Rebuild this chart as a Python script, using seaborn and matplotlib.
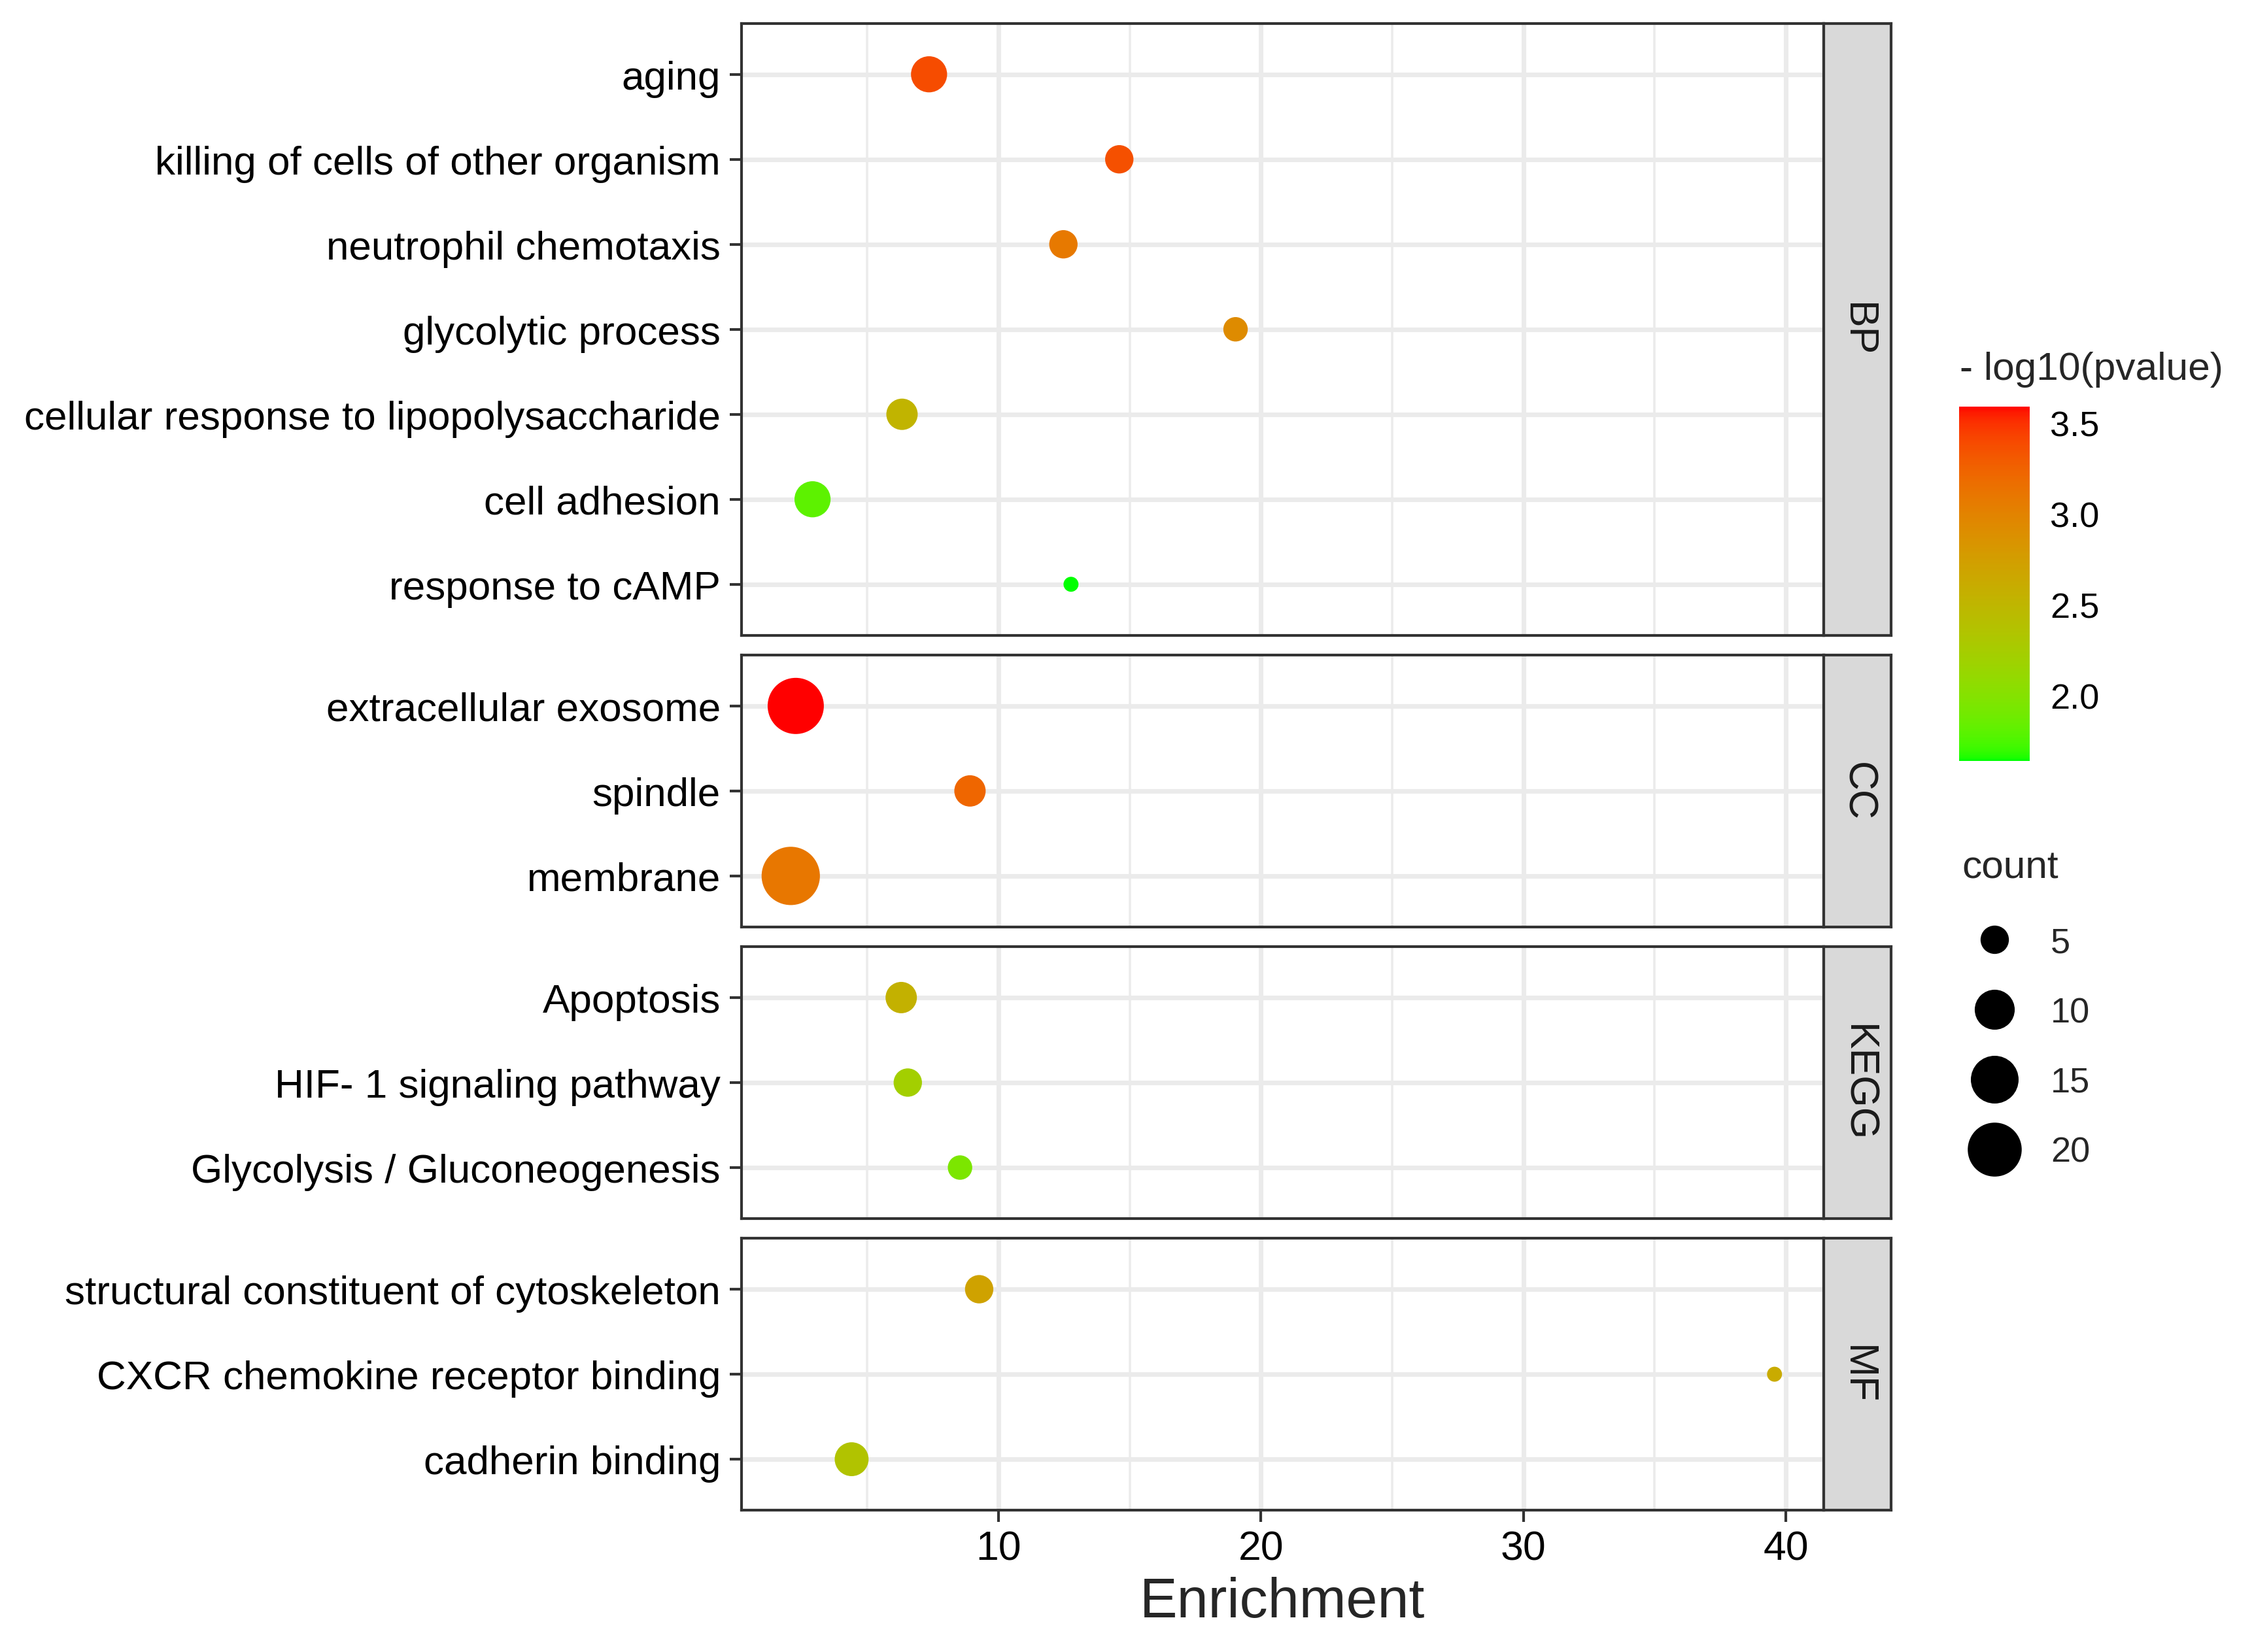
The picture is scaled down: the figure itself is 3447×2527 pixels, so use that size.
import numpy as np
import pandas as pd
import matplotlib
matplotlib.use("Agg")
import matplotlib.pyplot as plt
import seaborn as sns
from matplotlib.colors import ListedColormap, Normalize
from matplotlib.cm import ScalarMappable
from matplotlib.lines import Line2D
from matplotlib.ticker import MultipleLocator

# data
terms = [
    "aging", "killing of cells of other organism", "neutrophil chemotaxis",
    "glycolytic process", "cellular response to lipopolysaccharide",
    "cell adhesion", "response to cAMP",
    "extracellular exosome", "spindle", "membrane",
    "Apoptosis", "HIF- 1 signaling pathway", "Glycolysis / Gluconeogenesis",
    "structural constituent of cytoskeleton", "CXCR chemokine receptor binding",
    "cadherin binding",
]
category = ["BP"] * 7 + ["CC"] * 3 + ["KEGG"] * 3 + ["MF"] * 3
enrichment = [7.35, 14.6, 12.47, 19.03, 6.32, 2.91, 12.76,
              2.27, 8.91, 2.08,
              6.29, 6.54, 8.53,
              9.26, 39.57, 4.4]
neg_log_p = [3.38, 3.36, 3.08, 2.92, 2.52, 1.80, 1.64,
             3.59, 3.22, 3.10,
             2.55, 2.22, 1.95,
             2.70, 2.62, 2.35]
counts = [8, 5, 5, 4, 6, 8, 3,
          22, 6, 24,
          6, 5, 4,
          5, 3, 7]
groups = ["BP", "CC", "KEGG", "MF"]
size_breaks = [5, 10, 15, 20]
cbar_ticks = [2.0, 2.5, 3.0, 3.5]

df = pd.DataFrame({"term": terms, "category": category, "enrichment": enrichment,
                   "neg_log_p": neg_log_p, "count": counts})


# green -> red gradient interpolated in Lab space (like ggplot)
def srgb_to_lab(rgb):
    rgb = np.asarray(rgb, float)
    lin = np.where(rgb <= 0.04045, rgb / 12.92, ((rgb + 0.055) / 1.055) ** 2.4)
    m = np.array([[0.4124, 0.3576, 0.1805], [0.2126, 0.7152, 0.0722], [0.0193, 0.1192, 0.9505]])
    xyz = m @ lin / np.array([0.95047, 1.0, 1.08883])
    f = np.where(xyz > 0.008856, np.cbrt(xyz), 7.787 * xyz + 16 / 116)
    return np.array([116 * f[1] - 16, 500 * (f[0] - f[1]), 200 * (f[1] - f[2])])


def lab_to_srgb(lab):
    L, a, b = lab
    fy = (L + 16) / 116
    fx = fy + a / 500
    fz = fy - b / 200
    f = np.array([fx, fy, fz])
    xyz = np.where(f ** 3 > 0.008856, f ** 3, (f - 16 / 116) / 7.787) * np.array([0.95047, 1.0, 1.08883])
    minv = np.array([[3.2406, -1.5372, -0.4986], [-0.9689, 1.8758, 0.0415], [0.0557, -0.2040, 1.0570]])
    lin = np.clip(minv @ xyz, 0, 1)
    rgb = np.where(lin <= 0.0031308, 12.92 * lin, 1.055 * lin ** (1 / 2.4) - 0.055)
    return np.clip(rgb, 0, 1)


lab_lo = srgb_to_lab([0, 1, 0])
lab_hi = srgb_to_lab([1, 0, 0])
cmap = ListedColormap([lab_to_srgb(lab_lo + t * (lab_hi - lab_lo)) for t in np.linspace(0, 1, 256)])
norm = Normalize(df["neg_log_p"].min(), df["neg_log_p"].max())

# point sizes like ggplot's area scale
cmin, cmax = df["count"].min(), df["count"].max()


def diam(c):
    return 5.5 + 15.9 * np.sqrt((c - cmin) / (cmax - cmin))


size_map = {c: diam(c) ** 2 for c in sorted(set(counts) | set(size_breaks))}

sns.set_style("white")
plt.rcParams["font.family"] = ["Liberation Sans", "DejaVu Sans"]

fig = plt.figure(figsize=(3447 / 300, 2528 / 300), dpi=300)

left, right = 0.329, 0.8091
strip_w = 0.0299
top, bottom = 0.9855, 0.0858
gap = 0.0119
# discrete axis: (n - 1) steps plus 0.6 padding on each side
units = [df[df.category == g].shape[0] + 0.2 for g in groups]
unit_h = (top - bottom - gap * (len(groups) - 1)) / sum(units)

span = max(enrichment) - min(enrichment)
xlim = (min(enrichment) - 0.05 * span, max(enrichment) + 0.05 * span)

y = top
for i, g in enumerate(groups):
    sub = df[df.category == g].reset_index(drop=True)
    h = unit_h * units[i]
    ax = fig.add_axes([left, y - h, right - left, h])
    sns.scatterplot(data=sub, x="enrichment", y="term", hue="neg_log_p", palette=cmap,
                    hue_norm=norm, size="count", sizes=size_map, linewidth=0,
                    legend=False, ax=ax, zorder=3)
    ax.set_xlim(xlim)
    ax.set_ylim(len(sub) - 1 + 0.6, -0.6)
    ax.xaxis.set_major_locator(MultipleLocator(10))
    ax.xaxis.set_minor_locator(MultipleLocator(5))
    ax.set_axisbelow(True)
    ax.grid(which="major", color="#EBEBEB", lw=1.7)
    ax.grid(which="minor", axis="x", color="#EBEBEB", lw=0.85)
    for s in ax.spines.values():
        s.set_color("#333333")
        s.set_linewidth(1.0)
    ax.set_ylabel("")
    ax.tick_params(axis="y", length=4.4, width=1.0, color="#333333", labelsize=14.9,
                   pad=3.3, labelcolor="black", left=True)
    ax.tick_params(axis="x", which="minor", length=0)
    if i == len(groups) - 1:
        ax.tick_params(axis="x", which="major", length=4.2, width=1.0, color="#333333",
                       labelsize=15, pad=2.8, labelcolor="black", bottom=True)
        ax.set_xlabel("Enrichment", fontsize=20.7, labelpad=3)
    else:
        ax.tick_params(axis="x", which="both", bottom=False, labelbottom=False)
        ax.set_xlabel("")

    sax = fig.add_axes([right, y - h, strip_w, h])
    sax.set_facecolor("#D9D9D9")
    sax.set_xticks([])
    sax.set_yticks([])
    for s in sax.spines.values():
        s.set_color("#333333")
        s.set_linewidth(1.0)
    sax.text(0.5, 0.5, g, rotation=270, ha="center", va="center", fontsize=15,
             color="#1A1A1A", transform=sax.transAxes)
    y -= h + gap

# colour bar
cax = fig.add_axes([0.8692, 0.5392, 0.0313, 0.2144])
cb = fig.colorbar(ScalarMappable(norm=norm, cmap=cmap), cax=cax, ticks=cbar_ticks)
cb.outline.set_visible(False)
cax.yaxis.set_ticks_position("both")
cax.tick_params(axis="y", direction="in", length=5.6, width=0.8, color="white",
                labelsize=13, labelcolor="black", pad=7.5, left=True, right=True,
                labelleft=False, labelright=True)
cax.set_yticklabels([f"{t:.1f}" for t in cbar_ticks])
fig.text(0.8694, 0.7765, "- log10(pvalue)", fontsize=14.5, ha="left", va="center")

# size legend
fig.text(0.8703, 0.4747, "count", fontsize=14.5, ha="left", va="center")
handles = [Line2D([], [], marker="o", linestyle="", markersize=diam(c), color="black",
                  markeredgewidth=0) for c in size_breaks]
fig.legend(handles, [str(c) for c in size_breaks], loc="upper left",
           bbox_to_anchor=(0.869, 0.439), frameon=False, fontsize=13,
           borderpad=0, borderaxespad=0, labelspacing=1.05, handlelength=2.0,
           handletextpad=0.6)

fig.savefig("out.png", dpi=300)
